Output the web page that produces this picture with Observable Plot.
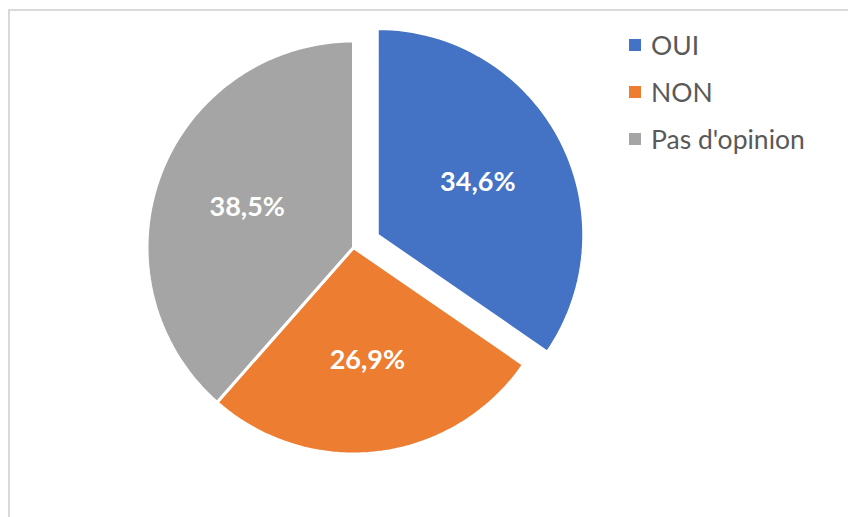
<!DOCTYPE html>
<html>
<head>
<meta charset="utf-8">
<script src="https://cdn.jsdelivr.net/npm/d3@7"></script>
<script src="https://cdn.jsdelivr.net/npm/@observablehq/plot@0.6"></script>
<style>
  html, body { margin: 0; padding: 0; background: #fff; }
  #wrap { position: relative; width: 848px; height: 517px; overflow: hidden; background: #fff; }
  #frame { position: absolute; left: 8px; top: 9px; width: 900px; height: 600px;
           border-top: 2px solid #d9d9d9; border-left: 2px solid #d9d9d9; box-sizing: border-box; }
  #chart { position: absolute; left: 0; top: 0; }
  #legend { position: absolute; left: 629px; top: 21px; }
  #legend .lg-swatches { margin: 0 !important; min-height: 0 !important; }
  #legend .lg-swatch { height: 47px; padding: 0 !important; display: flex; align-items: center; margin: 0 !important; }
  #legend .lg-swatch svg { margin-right: 10px !important; }
</style>
</head>
<body>
<div id="wrap">
  <div id="frame"></div>
  <div id="chart"></div>
  <div id="legend"></div>
</div>
<script>
// Data
const categories = ["OUI", "NON", "Pas d'opinion"];
const values = [34.6, 26.9, 38.5];
const valueLabels = ["34,6%", "26,9%", "38,5%"];
const colors = ["#4472C4", "#ED7D31", "#A5A5A5"];
const explodedCategory = "OUI";

const rows = categories.map((c, i) => ({category: c, value: values[i], label: valueLabels[i]}));
const arcs = d3.pie().sort(null).value(d => d.value)(rows);

const explode = 0.13;   // fraction of radius
const labelR = 0.55;
const steps = 180;

const polyPts = [];
const labelPts = [];
for (const a of arcs) {
  const mid = (a.startAngle + a.endAngle) / 2;
  const off = a.data.category === explodedCategory ? explode : 0;
  const cx = off * Math.sin(mid), cy = off * Math.cos(mid);
  polyPts.push({category: a.data.category, x: cx, y: cy});
  const n = Math.max(2, Math.ceil(steps * (a.endAngle - a.startAngle) / (2 * Math.PI)));
  for (let k = 0; k <= n; k++) {
    const t = a.startAngle + (a.endAngle - a.startAngle) * k / n;
    polyPts.push({category: a.data.category, x: cx + Math.sin(t), y: cy + Math.cos(t)});
  }
  polyPts.push({category: a.data.category, x: cx, y: cy});
  labelPts.push({category: a.data.category, label: a.data.label,
                 x: cx + labelR * Math.sin(mid), y: cy + labelR * Math.cos(mid)});
}

const R = 206.5, CX = 353, CY = 247;
const chart = Plot.plot({
  width: 848,
  height: 517,
  margin: 0,
  style: {background: "transparent", overflow: "visible"},
  x: {domain: [-1, 1], range: [CX - R, CX + R], axis: null},
  y: {domain: [-1, 1], range: [CY + R, CY - R], axis: null},
  color: {domain: categories, range: colors},
  marks: [
    Plot.line(polyPts, {x: "x", y: "y", z: "category", fill: "category", stroke: "white", strokeWidth: 3, strokeLinejoin: "miter", curve: "linear"}),
    Plot.text(labelPts, {x: "x", y: "y", text: "label", fill: "white", fontSize: 27, fontWeight: "bold", fontFamily: "Lato"})
  ]
});
document.getElementById("chart").appendChild(chart);

const legend = Plot.legend({
  color: {domain: categories, range: colors},
  legend: "swatches",
  columns: 1,
  swatchSize: 12,
  className: "lg",
  style: {fontSize: "26.5px", fontFamily: "Lato", color: "#595959"}
});
document.getElementById("legend").appendChild(legend);
</script>
</body>
</html>
